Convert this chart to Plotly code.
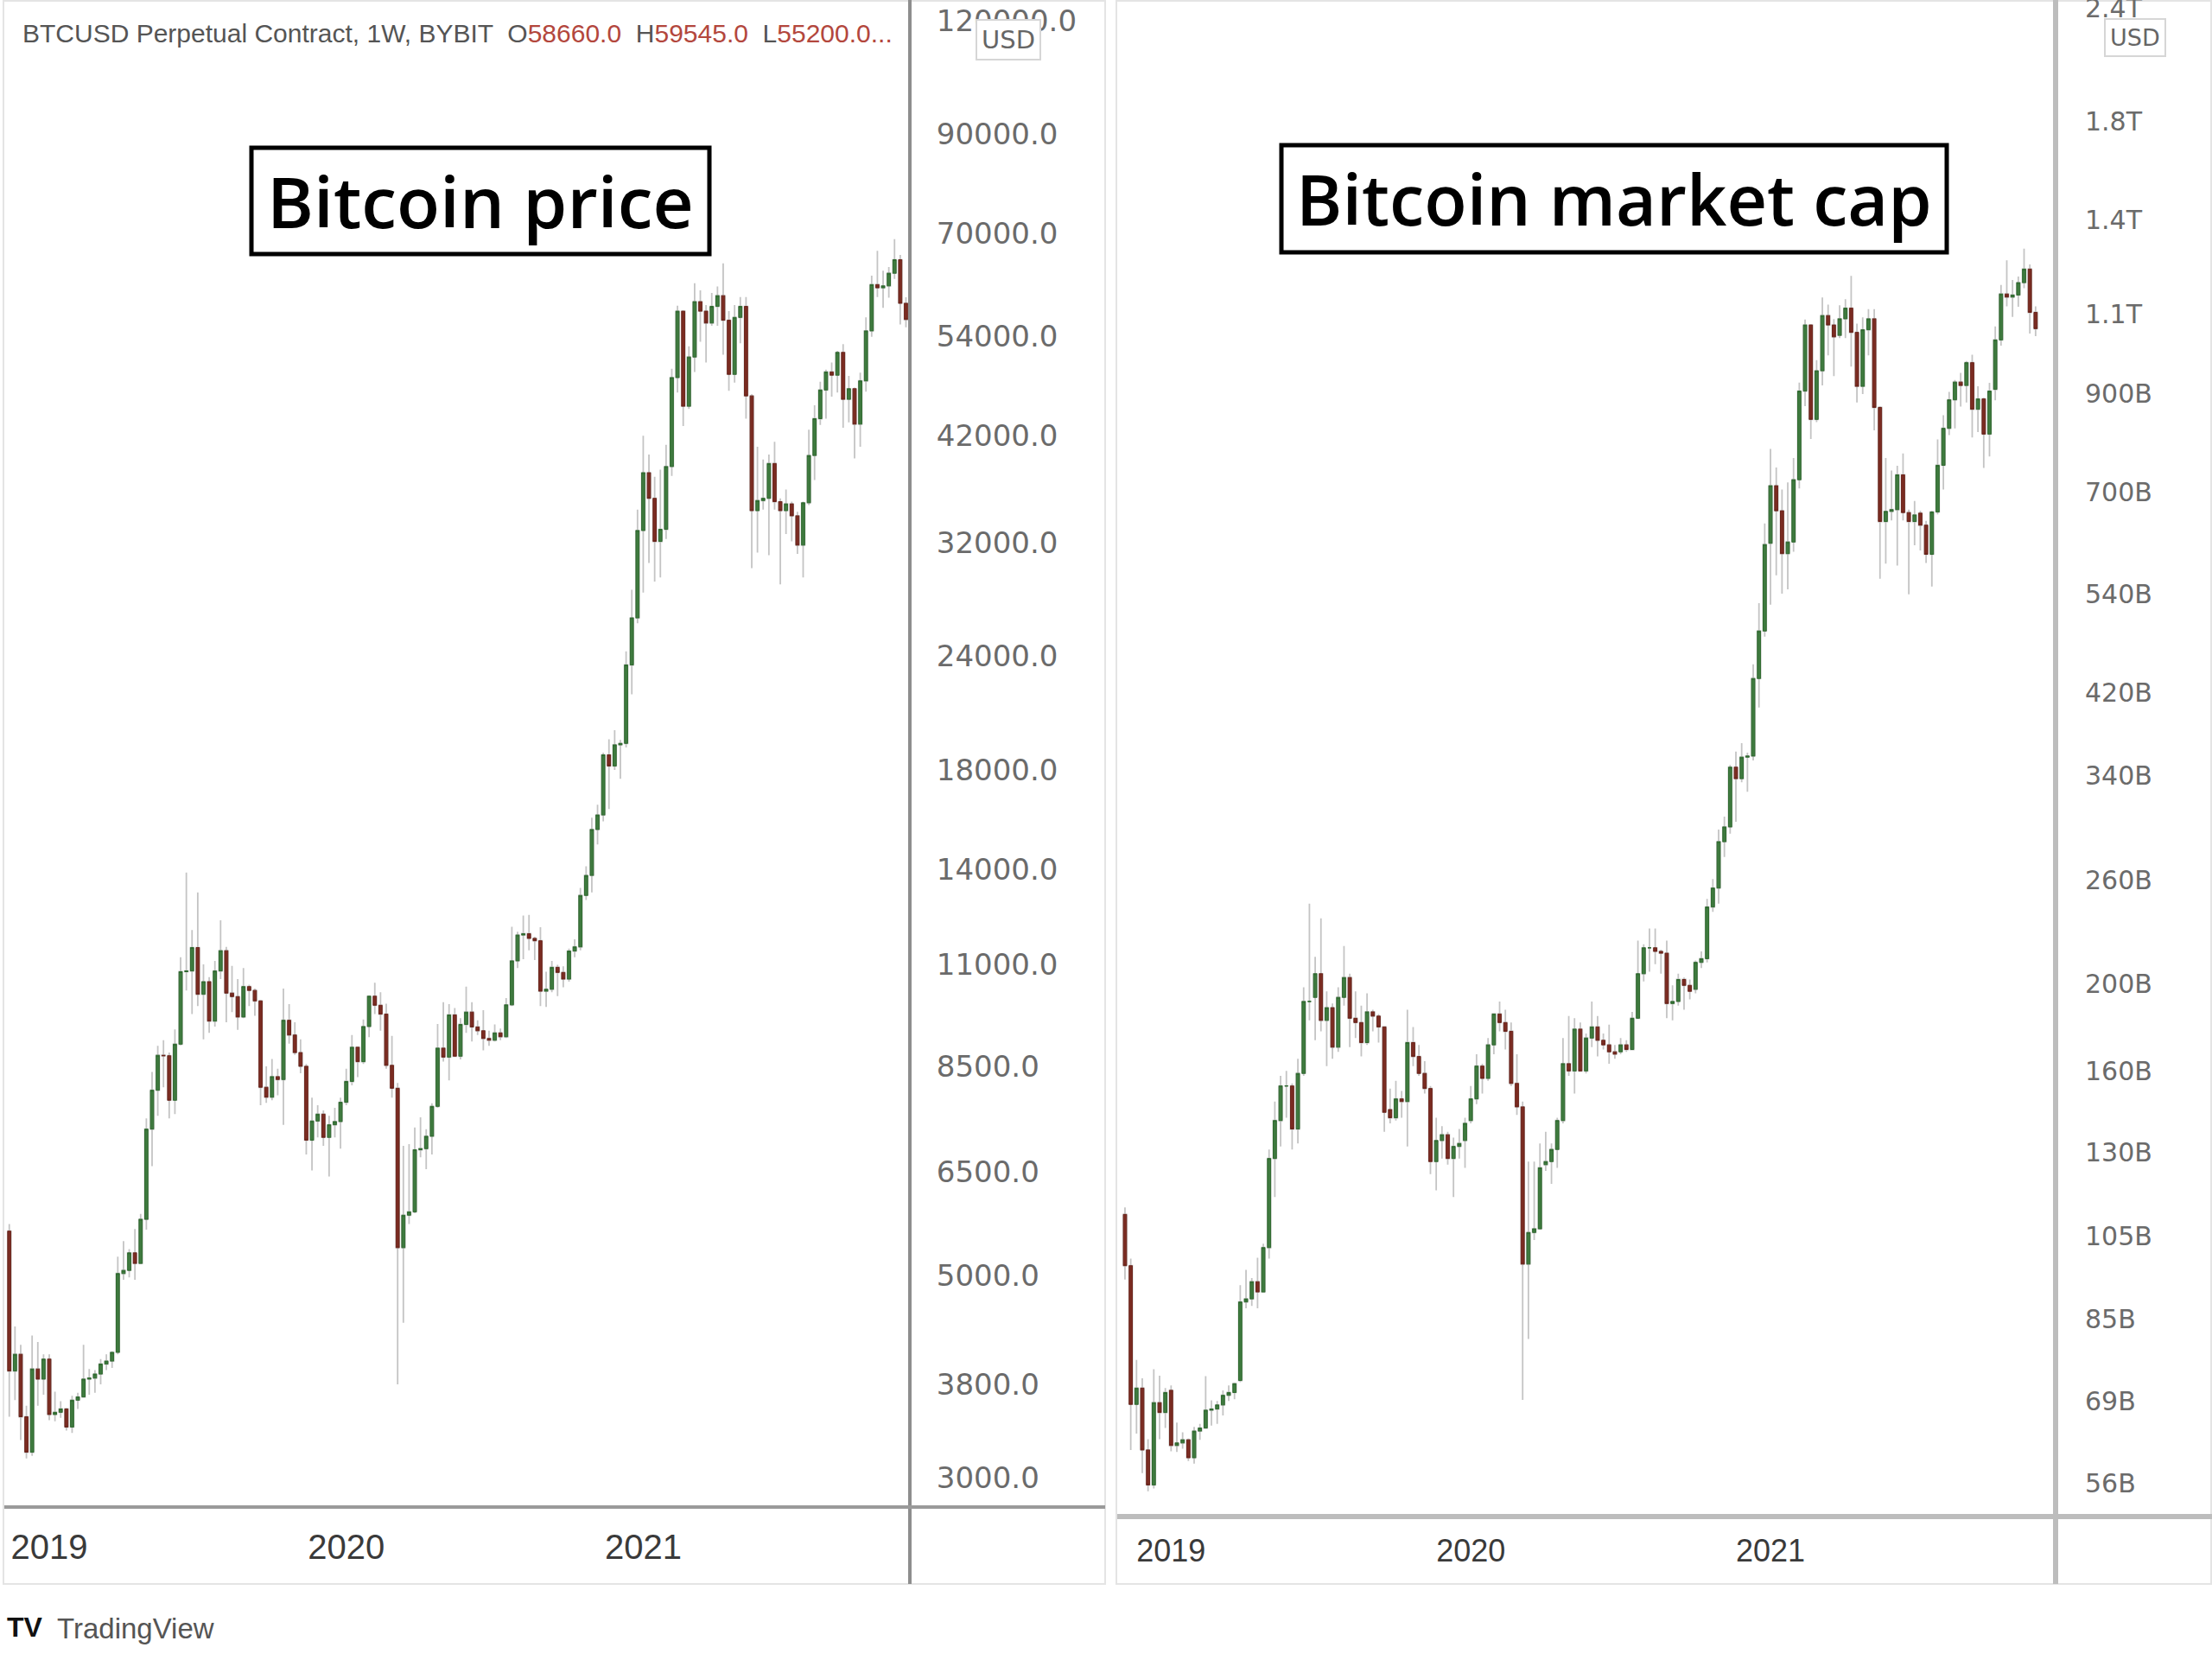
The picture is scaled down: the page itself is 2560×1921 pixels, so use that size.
import numpy as np
import pandas as pd
import plotly.graph_objects as go

W, H = 2560, 1921

# ---------------- data: BTCUSD weekly candles (Bybit perpetual, USD) ----------------
price_dates = pd.date_range("2018-11-19", periods=158, freq="7D")
price_open = [
    5600, 3930, 4100, 3500, 3200, 3950, 3850,
    4050, 3520, 3540, 3570, 3410, 3650, 3680, 3850, 3860, 3900, 4000, 4030,
    4120, 5030, 5070, 5300, 5160, 5770, 7250, 8000, 8740, 8730, 7800, 8990, 10800,
    10820, 11480, 10200, 10530, 9530, 10820, 11390, 10230, 10140, 9630, 10400, 10300, 10030,
    8060, 7860, 8280, 8220, 9550, 9200, 8800, 8500, 7050, 7400, 7530, 7100, 7330, 7390,
    7760, 8180, 8920, 8600, 9400, 10150, 9920, 9700, 8520, 8040, 5370, 5830, 5880,
    6880, 6900, 7120, 7680, 8900, 8700, 9680, 8720, 9450, 9750, 9390, 9300, 9120,
    9080, 9250, 9160, 9930, 11100, 11850, 11890, 11750, 11680, 10280, 10330, 10920, 10780,
    10600, 11380, 11500, 13100, 13780, 15480, 16060, 18700, 18180, 19180, 19250, 23480, 26450,
    33000, 38200, 35800, 32100, 33100, 38800, 48600, 57500, 45200, 51200, 58900, 57500,
    55800, 58200, 59800, 56200, 49000, 56600, 58200, 46400, 34700, 35600, 35800, 39100, 35500, 34700,
    35300, 34250, 31800, 35400, 39900, 43800, 47100, 49300, 48900, 51800, 46000, 47250, 43200,
    48200, 54700, 61500, 61000, 61300, 63300, 65500, 58660,
]
price_high = [
    5700, 4400, 4200, 3600, 4300, 4230, 4100,
    4100, 3730, 3640, 3580, 3690, 3720, 4200, 3950, 3940, 4050, 4100, 4130,
    5250, 5460, 5350, 5630, 5850, 7450, 8380, 8950, 9080, 8800, 9330, 11200, 13880,
    12000, 13200, 11000, 10650, 11100, 12300, 11500, 10960, 10600, 10900, 10450, 10350, 10050,
    8500, 8660, 8450, 10350, 9950, 9500, 9100, 8550, 7850, 7700, 7600, 7500, 7650, 7850,
    8450, 9200, 8930, 9570, 10170, 10500, 10250, 9960, 9180, 8150, 6950, 6980, 7280,
    7470, 7250, 7740, 9460, 10000, 9950, 9850, 9600, 10400, 10000, 9550, 9800, 9300,
    9450, 9350, 10100, 12100, 11950, 12450, 12470, 11800, 12090, 10800, 11100, 10990, 10950,
    11450, 11720, 13350, 14100, 15950, 16480, 18800, 19450, 19900, 19420, 24300, 28400, 34800,
    41950, 40000, 37800, 38500, 41000, 49700, 58300, 57600, 52600, 61700, 60600, 58400,
    60200, 61200, 64900, 57500, 58400, 59600, 59600, 46600, 40800, 39500, 40000, 41300, 35800, 36600,
    35500, 34600, 35500, 42600, 45300, 48100, 49600, 50500, 52000, 52900, 48800, 47400, 49200,
    56600, 62900, 67000, 63700, 64300, 69000, 66300, 59545,
]
price_low = [
    3500, 3650, 3300, 3150, 3170, 3600, 3700,
    3470, 3460, 3490, 3380, 3360, 3570, 3680, 3700, 3720, 3800, 3940, 3960,
    4100, 4950, 4980, 4950, 5150, 5620, 6600, 7500, 8060, 7450, 7530, 8960, 10300,
    9700, 9900, 9100, 9250, 9400, 10600, 9500, 9750, 9320, 9600, 9900, 9660, 7700,
    7750, 7800, 7900, 7330, 9000, 8750, 8350, 6800, 6530, 7100, 6950, 6430, 7100, 6900,
    7700, 8100, 8270, 8550, 9150, 9700, 9300, 8450, 7850, 3800, 4440, 5700, 5860,
    6750, 6550, 6800, 7650, 8600, 8200, 8700, 8650, 9250, 9050, 9200, 8850, 8950,
    9050, 9080, 9130, 9900, 10900, 11150, 11400, 11120, 9900, 9880, 10250, 10150, 10380,
    10530, 11200, 11400, 12950, 13200, 14900, 15800, 16300, 18000, 17600, 19050, 21800, 26100,
    28200, 30400, 29000, 29300, 32300, 37900, 46800, 43000, 44900, 49300, 53200, 50500,
    55400, 55400, 51500, 47000, 48000, 53000, 43800, 30000, 31200, 34800, 31000, 34800, 28800, 32700,
    32100, 31100, 29300, 35200, 37500, 43100, 43800, 46300, 46800, 42800, 43400, 39600, 40800,
    46900, 53900, 59600, 58000, 59500, 62400, 55600, 55200,
]
price_close = [
    3930, 4100, 3500, 3200, 3950, 3850, 4050,
    3520, 3540, 3570, 3410, 3650, 3680, 3850, 3860, 3900, 4000, 4030, 4120,
    5030, 5070, 5300, 5160, 5770, 7250, 8000, 8740, 8730, 7800, 8990, 10800, 10820,
    11480, 10200, 10530, 9530, 10820, 11390, 10230, 10140, 9630, 10400, 10300, 10030, 8060,
    7860, 8280, 8220, 9550, 9200, 8800, 8500, 7050, 7400, 7530, 7100, 7330, 7390, 7760,
    8180, 8920, 8600, 9400, 10150, 9920, 9700, 8520, 8040, 5370, 5830, 5880, 6880,
    6900, 7120, 7680, 8900, 8700, 9680, 8720, 9450, 9750, 9390, 9300, 9120, 9080,
    9250, 9160, 9930, 11100, 11850, 11890, 11750, 11680, 10280, 10330, 10920, 10780, 10600,
    11380, 11500, 13100, 13780, 15480, 16060, 18700, 18180, 19180, 19250, 23480, 26450, 33000,
    38200, 35800, 32100, 33100, 38800, 48600, 57500, 45200, 51200, 58900, 57500, 55800,
    58200, 59800, 56200, 49000, 56600, 58200, 46400, 34700, 35600, 35800, 39100, 35500, 34700, 35300,
    34250, 31800, 35400, 39900, 43800, 47100, 49300, 48900, 51800, 46000, 47250, 43200, 48200,
    54700, 61500, 61000, 61300, 63300, 65500, 58660, 56300,
]

# ---------------- data: BTC market cap weekly candles (billions USD) ----------------
cap_dates = pd.date_range("2018-11-12", periods=159, freq="7D")
cap_open = [
    111,
    97.4, 68.4, 71.3, 60.9, 55.7, 68.7, 67.0,
    70.9, 61.6, 62.0, 62.5, 59.7, 63.9, 64.4, 67.4, 67.6, 68.3, 70.0, 70.5,
    72.7, 88.8, 89.5, 93.5, 91.1, 102, 128, 141, 154, 154, 138, 159, 191,
    193, 205, 182, 188, 170, 193, 203, 183, 181, 172, 186, 184, 179,
    145, 142, 149, 148, 172, 166, 159, 153, 127, 134, 136, 128, 132, 134,
    141, 149, 162, 157, 171, 185, 181, 177, 155, 146, 97.8, 106, 107,
    126, 127, 131, 141, 163, 160, 178, 160, 174, 179, 173, 171, 168,
    168, 171, 169, 183, 205, 219, 219, 217, 216, 190, 191, 202, 199,
    197, 211, 213, 243, 255, 287, 298, 347, 337, 356, 357, 435, 491,
    614, 711, 667, 598, 616, 722, 905, 1071, 842, 953, 1097, 1071,
    1043, 1088, 1118, 1051, 916, 1058, 1088, 868, 649, 666, 669, 731, 664, 649,
    663, 643, 597, 665, 749, 823, 885, 926, 918, 973, 864, 887, 811,
    909, 1031, 1159, 1150, 1156, 1193, 1235, 1106,
]
cap_high = [
    113,
    99.2, 76.6, 73.1, 62.6, 74.8, 73.6, 71.3,
    71.8, 65.3, 63.7, 62.7, 64.6, 65.1, 73.5, 69.1, 69.0, 70.9, 71.8, 72.3,
    92.7, 96.4, 94.4, 99.4, 103, 131, 148, 158, 160, 155, 165, 198, 245,
    214, 236, 196, 190, 198, 220, 205, 196, 189, 195, 187, 185, 179,
    153, 156, 152, 187, 179, 171, 164, 154, 142, 139, 137, 135, 138, 142,
    154, 167, 163, 174, 185, 191, 187, 181, 167, 148, 127, 127, 133,
    137, 133, 142, 174, 184, 183, 181, 176, 191, 184, 176, 180, 171,
    174, 173, 186, 223, 221, 230, 230, 218, 223, 199, 205, 203, 202,
    212, 217, 248, 261, 296, 306, 349, 361, 369, 360, 451, 527, 646,
    781, 745, 704, 717, 763, 925, 1086, 1072, 979, 1149, 1128, 1087,
    1126, 1144, 1214, 1075, 1092, 1115, 1115, 871, 763, 739, 748, 772, 669, 684,
    667, 650, 667, 800, 851, 903, 931, 948, 977, 993, 916, 890, 924,
    1067, 1186, 1263, 1201, 1212, 1301, 1250, 1123,
]
cap_low = [
    94,
    60.9, 63.5, 57.4, 54.8, 55.2, 62.6, 64.4,
    60.7, 60.6, 61.1, 59.2, 58.8, 62.5, 64.4, 64.8, 65.1, 66.5, 69.0, 69.3,
    72.4, 87.4, 87.9, 87.4, 90.9, 99.2, 116, 132, 142, 131, 133, 158, 182,
    173, 177, 162, 165, 168, 189, 170, 174, 166, 171, 177, 172, 137,
    140, 141, 142, 132, 162, 158, 151, 123, 118, 128, 126, 116, 128, 125,
    140, 147, 151, 156, 167, 177, 169, 154, 143, 69.2, 80.8, 104, 107,
    124, 120, 125, 140, 158, 151, 160, 159, 170, 166, 169, 163, 165,
    167, 168, 169, 183, 201, 206, 210, 205, 183, 182, 189, 187, 192,
    195, 208, 211, 240, 245, 276, 293, 302, 334, 326, 353, 404, 484,
    525, 566, 540, 546, 601, 706, 871, 801, 836, 918, 991, 940,
    1036, 1036, 963, 879, 898, 991, 819, 561, 583, 651, 580, 651, 539, 611,
    603, 584, 550, 661, 704, 809, 823, 870, 879, 804, 815, 744, 766,
    884, 1016, 1123, 1093, 1122, 1176, 1048, 1041,
]
cap_close = [
    97.4,
    68.4, 71.3, 60.9, 55.7, 68.7, 67.0, 70.5,
    61.6, 62.0, 62.5, 59.7, 63.9, 64.4, 67.4, 67.6, 68.3, 70.0, 70.5, 72.1,
    88.8, 89.5, 93.5, 91.1, 102, 128, 141, 154, 154, 138, 159, 191, 191,
    205, 182, 188, 170, 193, 203, 183, 181, 172, 186, 184, 179, 144,
    142, 149, 148, 172, 166, 159, 153, 127, 134, 136, 128, 132, 133, 140,
    149, 162, 157, 171, 185, 181, 177, 155, 146, 97.8, 106, 107, 125,
    127, 131, 141, 163, 160, 178, 160, 174, 179, 173, 171, 168, 167,
    171, 169, 183, 205, 219, 219, 217, 216, 190, 191, 202, 199, 196,
    211, 213, 243, 255, 287, 298, 347, 337, 356, 357, 435, 491, 612,
    711, 667, 598, 616, 722, 905, 1071, 842, 953, 1097, 1071, 1039,
    1088, 1118, 1051, 916, 1058, 1088, 868, 649, 666, 669, 731, 664, 649, 660,
    643, 597, 665, 749, 823, 885, 926, 918, 973, 864, 887, 811, 905,
    1031, 1159, 1150, 1156, 1193, 1235, 1106, 1061,
]

# ---------------- tick labels ----------------
price_tickvals = [120000, 90000, 70000, 54000, 42000, 32000, 24000, 18000, 14000,
                  11000, 8500, 6500, 5000, 3800, 3000]
price_ticktext = ["120000.0", "90000.0", "70000.0", "54000.0", "42000.0", "32000.0",
                  "24000.0", "18000.0", "14000.0", "11000.0", "8500.0", "6500.0",
                  "5000.0", "3800.0", "3000.0"]
cap_tickvals = [2400, 1800, 1400, 1100, 900, 700, 540, 420, 340, 260, 200, 160,
                130, 105, 85, 69, 56]
cap_ticktext = ["2.4T", "1.8T", "1.4T", "1.1T", "900B", "700B", "540B", "420B", "340B",
                "260B", "200B", "160B", "130B", "105B", "85B", "69B", "56B"]
year_vals_price = ["2019-01-07", "2020-01-06", "2021-01-04"]
year_vals_cap = ["2019-01-07", "2020-01-06", "2021-01-04"]
year_text = ["2019", "2020", "2021"]

# ---------------- styling ----------------
GREEN, GREEN_LINE = "#3f7a3f", "#2f6a2f"
RED, RED_LINE = "#7b2c22", "#6c251c"
WICK = "#c4c4c4"


def fx(px):
    return px / W


def fy(py):
    return 1 - py / H


fig = go.Figure()


def add_candles(x, o, h, l, c, xa, ya):
    o = np.asarray(o, float)
    c = np.asarray(c, float)
    fig.add_trace(go.Candlestick(
        x=x, open=o, high=h, low=l, close=c, xaxis=xa, yaxis=ya,
        increasing=dict(line=dict(color=WICK, width=1.8), fillcolor=WICK),
        decreasing=dict(line=dict(color=WICK, width=1.8), fillcolor=WICK),
        whiskerwidth=0, showlegend=False, hoverinfo="skip"))
    fig.add_trace(go.Candlestick(
        x=x, open=o, high=np.maximum(o, c), low=np.minimum(o, c), close=c,
        xaxis=xa, yaxis=ya,
        increasing=dict(line=dict(color=GREEN_LINE, width=1), fillcolor=GREEN),
        decreasing=dict(line=dict(color=RED_LINE, width=1), fillcolor=RED),
        whiskerwidth=0, showlegend=False, hoverinfo="skip"))


add_candles(price_dates, price_open, price_high, price_low, price_close, "x", "y")
add_candles(cap_dates, cap_open, cap_high, cap_low, cap_close, "x2", "y2")

TICKGREY = "#6b6b6b"
common_x = dict(type="date", showgrid=False, zeroline=False, showline=False,
                rangeslider=dict(visible=False), ticks="outside", automargin=False,
                tickcolor="rgba(0,0,0,0)", fixedrange=True)
common_y = dict(type="log", side="right", showgrid=False, zeroline=False, showline=False,
                ticks="outside", tickcolor="rgba(0,0,0,0)", fixedrange=True,
                automargin=False, ticklabeloverflow="allow")

fig.update_layout(
    width=W, height=H, margin=dict(l=0, r=0, t=0, b=0, autoexpand=False),
    paper_bgcolor="white", plot_bgcolor="white", showlegend=False,
    boxgap=0.2,
    xaxis=dict(common_x, domain=[fx(5), fx(1053)], anchor="y",
               range=["2018-11-12 22:00", "2021-11-26 19:00"],
               tickvals=year_vals_price, ticktext=year_text, ticklen=11,
               tickfont=dict(family="Liberation Sans, Arial", size=40, color="#3a3a3a")),
    yaxis=dict(common_y, domain=[fy(1744), 1], anchor="x",
               range=[3.4448, 5.1018], tickvals=price_tickvals, ticktext=price_ticktext,
               ticklen=23,
               tickfont=dict(family="DejaVu Sans", size=34, color=TICKGREY)),
    xaxis2=dict(common_x, domain=[fx(1293), fx(2379)], anchor="y2",
                range=["2018-11-02 14:00", "2021-12-16 07:00"],
                tickvals=year_vals_cap, ticktext=year_text, ticklen=8,
                tickfont=dict(family="Liberation Sans, Arial", size=36, color="#3a3a3a")),
    yaxis2=dict(common_y, domain=[fy(1755), 1], anchor="x2",
                range=[1.7109, 3.3895], tickvals=cap_tickvals, ticktext=cap_ticktext,
                ticklen=27,
                tickfont=dict(family="DejaVu Sans", size=30, color=TICKGREY)),
)

shapes = []
# panel frames
for (x0, x1) in [(4, 1279), (1292, 2559)]:
    shapes.append(dict(type="rect", xref="paper", yref="paper",
                       x0=fx(x0), x1=fx(x1), y0=fy(1833), y1=fy(1),
                       line=dict(color="#e4e4e4", width=2), layer="below"))
# axis separator lines
shapes += [
    dict(type="line", xref="paper", yref="paper", x0=fx(1053), x1=fx(1053), y0=fy(1833), y1=1,
         line=dict(color="#8e8e8e", width=4), layer="above"),
    dict(type="line", xref="paper", yref="paper", x0=fx(5), x1=fx(1279), y0=fy(1744), y1=fy(1744),
         line=dict(color="#9a9a9a", width=4), layer="above"),
    dict(type="line", xref="paper", yref="paper", x0=fx(2379), x1=fx(2379), y0=fy(1833), y1=1,
         line=dict(color="#bdbdbd", width=6), layer="above"),
    dict(type="line", xref="paper", yref="paper", x0=fx(1293), x1=fx(2560), y0=fy(1755), y1=fy(1755),
         line=dict(color="#bdbdbd", width=6), layer="above"),
]
# title boxes
shapes += [
    dict(type="rect", xref="paper", yref="paper", x0=fx(291), x1=fx(821), y0=fy(294), y1=fy(171),
         line=dict(color="black", width=5), fillcolor="white", layer="above"),
    dict(type="rect", xref="paper", yref="paper", x0=fx(1483), x1=fx(2253), y0=fy(292), y1=fy(168),
         line=dict(color="black", width=5), fillcolor="white", layer="above"),
]
fig.update_layout(shapes=shapes)

RED_TXT = "#b3473d"
annotations = [
    dict(x=fx(556), y=fy(232), xref="paper", yref="paper", text="Bitcoin price",
         showarrow=False, xanchor="center", yanchor="middle",
         font=dict(family="Open Sans", size=82, color="black", weight=600)),
    dict(x=fx(1868), y=fy(230), xref="paper", yref="paper", text="Bitcoin market cap",
         showarrow=False, xanchor="center", yanchor="middle",
         font=dict(family="Open Sans", size=81, color="black", weight=600)),
    dict(x=fx(24), y=fy(39), xref="paper", yref="paper", xanchor="left", yanchor="middle",
         showarrow=False,
         text=("BTCUSD Perpetual Contract, 1W, BYBIT  "
               f"O<span style='color:{RED_TXT}'>58660.0</span>  "
               f"H<span style='color:{RED_TXT}'>59545.0</span>  "
               f"L<span style='color:{RED_TXT}'>55200.0...</span>"),
         font=dict(family="Liberation Sans, Arial", size=30, color="#555555")),
    dict(x=fx(1167), y=fy(46), xref="paper", yref="paper", text="USD", showarrow=False,
         xanchor="center", yanchor="middle", bgcolor="white", bordercolor="#d6d6d6",
         borderwidth=2, borderpad=5,
         font=dict(family="DejaVu Sans", size=29, color="#666666")),
    dict(x=fx(2471), y=fy(44), xref="paper", yref="paper", text="USD", showarrow=False,
         xanchor="center", yanchor="middle", bgcolor="white", bordercolor="#d6d6d6",
         borderwidth=2, borderpad=5,
         font=dict(family="DejaVu Sans", size=27, color="#666666")),
    dict(x=fx(6), y=fy(1883), xref="paper", yref="paper", text="<b>TV</b>", showarrow=False,
         xanchor="left", yanchor="middle",
         font=dict(family="Liberation Sans, Arial", size=32, color="#111111")),
    dict(x=fx(64), y=fy(1884), xref="paper", yref="paper", text="TradingView", showarrow=False,
         xanchor="left", yanchor="middle",
         font=dict(family="Liberation Sans, Arial", size=33, color="#555555")),
]
fig.update_layout(annotations=annotations)

fig.write_html("out.html", config={"displayModeBar": False},
               post_script="document.body.style.margin='0';")
